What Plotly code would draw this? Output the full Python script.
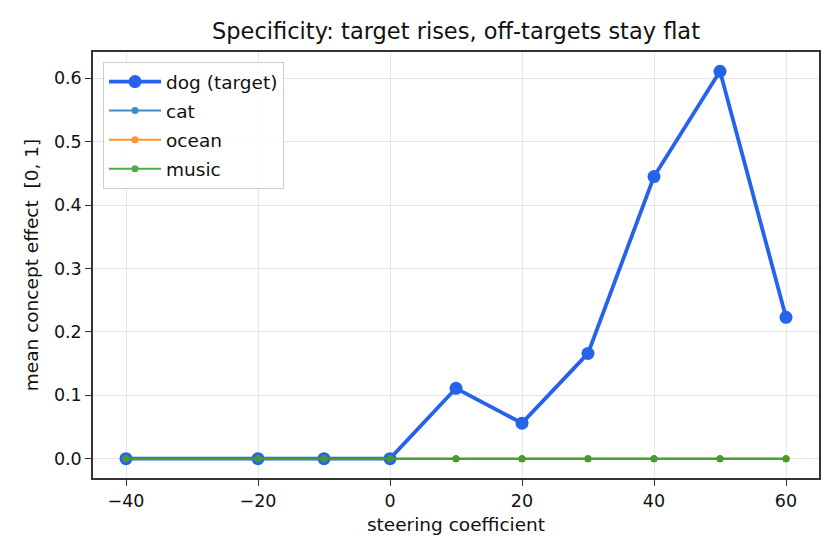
import plotly.graph_objects as go

coef = [-40, -20, -10, 0, 10, 20, 30, 40, 50, 60]
dog = [0.0, 0.0, 0.0, 0.0, 0.111, 0.056, 0.166, 0.445, 0.611, 0.223]
cat = [0.0] * 10
ocean = [0.0] * 10
music = [0.0] * 10

x_ticks = [-40, -20, 0, 20, 40, 60]
x_tick_text = ["\u221240", "\u221220", "0", "20", "40", "60"]
y_ticks = [0.0, 0.1, 0.2, 0.3, 0.4, 0.5, 0.6]

FONT = "DejaVu Sans"

fig = go.Figure()
fig.add_trace(go.Scatter(x=coef, y=dog, name="dog (target)", mode="lines+markers",
                         line=dict(color="#2563eb", width=3.8),
                         marker=dict(color="#2563eb", size=13), legendgroup="a"))
fig.add_trace(go.Scatter(x=coef, y=cat, name="cat", mode="lines+markers",
                         line=dict(color="#1f77b4", width=2),
                         marker=dict(color="#1f77b4", size=7), opacity=0.85, legendgroup="b"))
fig.add_trace(go.Scatter(x=coef, y=ocean, name="ocean", mode="lines+markers",
                         line=dict(color="#ff7f0e", width=2),
                         marker=dict(color="#ff7f0e", size=7), opacity=0.85, legendgroup="c"))
fig.add_trace(go.Scatter(x=coef, y=music, name="music", mode="lines+markers",
                         line=dict(color="#2ca02c", width=2),
                         marker=dict(color="#2ca02c", size=7), opacity=0.85, legendgroup="d"))

axis_common = dict(showline=True, linecolor="#333333", linewidth=1.5, mirror=True,
                   ticks="outside", ticklen=6, tickwidth=1.3, tickcolor="#333333",
                   showgrid=True, gridcolor="#e6e6e6", gridwidth=1, zeroline=False,
                   tickfont=dict(family=FONT, size=17.5, color="#111111"))

fig.update_layout(
    width=840, height=560,
    paper_bgcolor="white", plot_bgcolor="white",
    margin=dict(l=93, r=21, t=52, b=82),
    font=dict(family=FONT, size=17.5, color="#111111"),
    title=dict(text="Specificity: target rises, off-targets stay flat",
               x=(93 + 819) / 2 / 840, xanchor="center", y=1 - 31 / 560, yanchor="middle",
               font=dict(family=FONT, size=22.5, color="#111111")),
    xaxis=dict(range=[-45, 65], tickvals=x_ticks, ticktext=x_tick_text,
               title=dict(text="steering coefficient", font=dict(family=FONT, size=18.5), standoff=8),
               **axis_common),
    yaxis=dict(range=[-0.0305, 0.6415], tickvals=y_ticks, tickformat=".1f",
               title=dict(text="mean concept effect  [0, 1]", font=dict(family=FONT, size=18.5), standoff=10),
               **axis_common),
    legend=dict(x=0.0138, y=0.9765, xanchor="left", yanchor="top",
                bgcolor="rgba(255,255,255,0.85)", bordercolor="#cccccc", borderwidth=1,
                font=dict(family=FONT, size=18.5, color="#111111"),
                traceorder="grouped", tracegroupgap=2, itemwidth=52),
    showlegend=True,
)

fig.write_html("out.html")
